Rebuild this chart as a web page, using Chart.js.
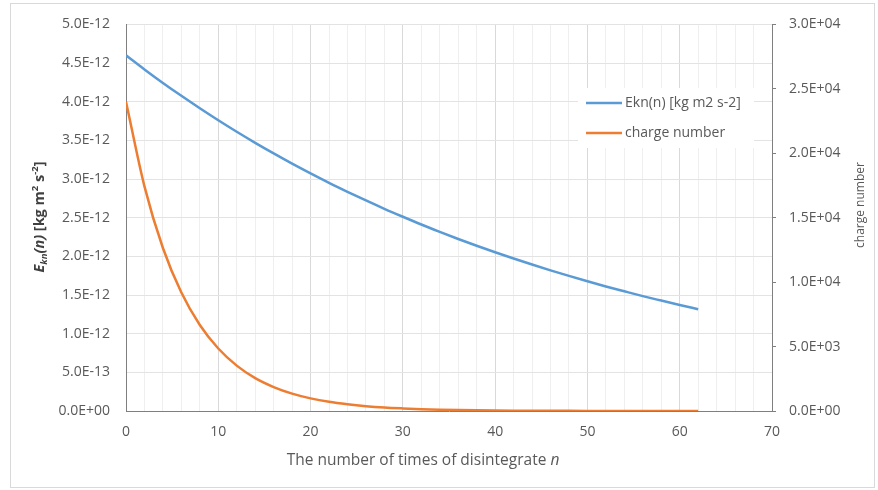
<!DOCTYPE html>
<html>
<head>
<meta charset="utf-8">
<script src="https://cdn.jsdelivr.net/npm/chart.js@4"></script>
<style>
  html, body { margin: 0; padding: 0; background: #fff; }
  #wrap { width: 878px; height: 490px; }
</style>
</head>
<body>
<div id="wrap"><canvas id="canvas"></canvas></div>
<script>
// n values (every 2nd disintegration)
const nValues = [0, 2, 4, 6, 8, 10, 12, 14, 16, 18, 20, 22, 24, 26, 28, 30,
	32, 34, 36, 38, 40, 42, 44, 46, 48, 50, 52, 54, 56, 58, 60, 62];
// Ekn(n) [kg m2 s-2]
const eknValues = [4.600e-12, 4.418e-12, 4.243e-12, 4.076e-12, 3.915e-12, 3.760e-12, 3.611e-12, 3.468e-12,
	3.331e-12, 3.199e-12, 3.073e-12, 2.951e-12, 2.835e-12, 2.723e-12, 2.615e-12, 2.512e-12,
	2.412e-12, 2.317e-12, 2.225e-12, 2.137e-12, 2.053e-12, 1.972e-12, 1.894e-12, 1.819e-12,
	1.747e-12, 1.678e-12, 1.611e-12, 1.548e-12, 1.486e-12, 1.428e-12, 1.371e-12, 1.317e-12];
// charge number
const chargeValues = [24000, 17430, 12650, 9190, 6670, 4850, 3520, 2550, 1860, 1350, 980, 710, 520, 375, 270, 200,
	145, 105, 76, 55, 40, 29, 21, 15, 11, 8, 6, 4, 3, 2, 2, 1];

const xTicks = [0, 10, 20, 30, 40, 50, 60, 70];
const leftTicks = [0, 0.5e-12, 1e-12, 1.5e-12, 2e-12, 2.5e-12, 3e-12, 3.5e-12, 4e-12, 4.5e-12, 5e-12];
const rightTicks = [0, 5000, 10000, 15000, 20000, 25000, 30000];

const legendLabels = ['Ekn(n) [kg m2 s-2]', 'charge number'];
const blue = '#5B9BD5';
const orange = '#ED7D31';
const textColor = '#595959';
const FONT = '"Open Sans", "Noto Sans", sans-serif';

Chart.defaults.font.family = FONT;
Chart.defaults.font.size = 14;
Chart.defaults.color = textColor;

function sci(v) {
	if (Math.abs(v) < 1e-30) return '0.0E+00';
	let e = Math.floor(Math.log10(Math.abs(v)) + 1e-9);
	let m = v / Math.pow(10, e);
	if (Math.round(m * 10) / 10 >= 10) { m = m / 10; e++; }
	const sign = e < 0 ? '-' : '+';
	const ee = String(Math.abs(e)).padStart(2, '0');
	return m.toFixed(1) + 'E' + sign + ee;
}

function drawSegments(ctx, segs, cx, cy) {
	let total = 0;
	segs.forEach(s => { ctx.font = s.font; total += ctx.measureText(s.t).width; });
	let x = cx - total / 2;
	segs.forEach(s => {
		ctx.font = s.font;
		ctx.fillText(s.t, x, cy + (s.dy || 0));
		x += ctx.measureText(s.t).width;
	});
}

const decorations = {
	id: 'decorations',
	afterDraw(chart) {
		const ctx = chart.ctx;
		ctx.save();
		// outer frame
		ctx.strokeStyle = '#d9d9d9';
		ctx.lineWidth = 1;
		ctx.strokeRect(10.5, 3.5, 864, 484);

		// legend box
		ctx.fillStyle = '#ffffff';
		ctx.fillRect(578, 88, 176, 60);
		ctx.lineWidth = 2.5;
		ctx.strokeStyle = blue;
		ctx.beginPath(); ctx.moveTo(586, 103); ctx.lineTo(622, 103); ctx.stroke();
		ctx.strokeStyle = orange;
		ctx.beginPath(); ctx.moveTo(586, 133); ctx.lineTo(622, 133); ctx.stroke();
		ctx.fillStyle = textColor;
		ctx.textBaseline = 'middle';
		ctx.textAlign = 'left';
		ctx.font = '14px ' + FONT;
		ctx.fillText(legendLabels[0], 625, 103);
		ctx.fillText(legendLabels[1], 625, 133);

		// x title
		drawSegments(ctx, [
			{ t: 'The number of times of disintegrate ', font: '15.5px ' + FONT },
			{ t: 'n', font: 'italic 15.5px ' + FONT }
		], 423, 461);

		// left title
		ctx.save();
		ctx.translate(40, 217);
		ctx.rotate(-Math.PI / 2);
		ctx.fillStyle = '#404040';
		const b = 'bold 14.5px ' + FONT, bi = 'bold italic 14.5px ' + FONT, bs = 'bold 9.5px ' + FONT, bis = 'bold italic 9.5px ' + FONT;
		drawSegments(ctx, [
			{ t: 'E', font: bi },
			{ t: 'kn', font: bis, dy: 4 },
			{ t: '(n)', font: bi },
			{ t: ' [kg m', font: b },
			{ t: '2', font: bs, dy: -5 },
			{ t: ' s', font: b },
			{ t: '-2', font: bs, dy: -5 },
			{ t: ']', font: b }
		], 0, 0);
		ctx.restore();

		// right title
		ctx.save();
		ctx.translate(861, 205);
		ctx.rotate(-Math.PI / 2);
		ctx.fillStyle = textColor;
		ctx.textAlign = 'center';
		ctx.font = '12px ' + FONT;
		ctx.fillText('charge number', 0, 0);
		ctx.restore();
		ctx.restore();
	}
};

const ctx = document.getElementById('canvas');
new Chart(ctx, {
	type: 'line',
	data: {
		datasets: [{
			label: legendLabels[0],
			data: nValues.map((n, i) => ({ x: n, y: eknValues[i] })),
			borderColor: blue,
			backgroundColor: blue,
			borderWidth: 2.5,
			pointRadius: 0,
			cubicInterpolationMode: 'monotone',
			yAxisID: 'y'
		}, {
			label: legendLabels[1],
			data: nValues.map((n, i) => ({ x: n, y: chargeValues[i] })),
			borderColor: orange,
			backgroundColor: orange,
			borderWidth: 2.5,
			pointRadius: 0,
			cubicInterpolationMode: 'monotone',
			yAxisID: 'y1'
		}]
	},
	options: {
		responsive: true,
		maintainAspectRatio: false,
		animation: false,
		layout: { padding: { top: 23, left: 0, right: 0, bottom: 0 } },
		plugins: {
			legend: { display: false },
			tooltip: { enabled: false }
		},
		scales: {
			x: {
				type: 'linear',
				min: 0,
				max: 70,
				afterBuildTicks: (s) => {
					const t = [];
					for (let v = 0; v <= 70; v += 2) t.push({ value: v });
					s.ticks = t;
				},
				afterFit: (s) => { s.height = 79; },
				ticks: {
					autoSkip: false,
					maxRotation: 0,
					padding: 13,
					callback: (v) => xTicks.includes(v) ? String(v) : ''
				},
				grid: {
					color: (c) => (c.tick && c.tick.value % 10 === 0) ? '#d9d9d9' : '#efefef',
					drawTicks: false
				},
				border: { color: '#7f7f7f', width: 1 }
			},
			y: {
				type: 'linear',
				position: 'left',
				min: 0,
				max: 5e-12,
				afterBuildTicks: (s) => { s.ticks = leftTicks.map(v => ({ value: v })); },
				afterFit: (s) => { s.width = 126; },
				ticks: {
					padding: 16,
					callback: (v) => sci(v)
				},
				grid: { color: '#e3e3e3', drawTicks: false },
				border: { color: '#7f7f7f', width: 1 }
			},
			y1: {
				type: 'linear',
				position: 'right',
				min: 0,
				max: 30000,
				afterBuildTicks: (s) => { s.ticks = rightTicks.map(v => ({ value: v })); },
				afterFit: (s) => { s.width = 106; },
				ticks: {
					padding: 13,
					callback: (v) => sci(v)
				},
				grid: { drawOnChartArea: false, tickLength: 4, color: '#7f7f7f' },
				border: { color: '#7f7f7f', width: 1 }
			}
		}
	},
	plugins: [decorations]
});
</script>
</body>
</html>
